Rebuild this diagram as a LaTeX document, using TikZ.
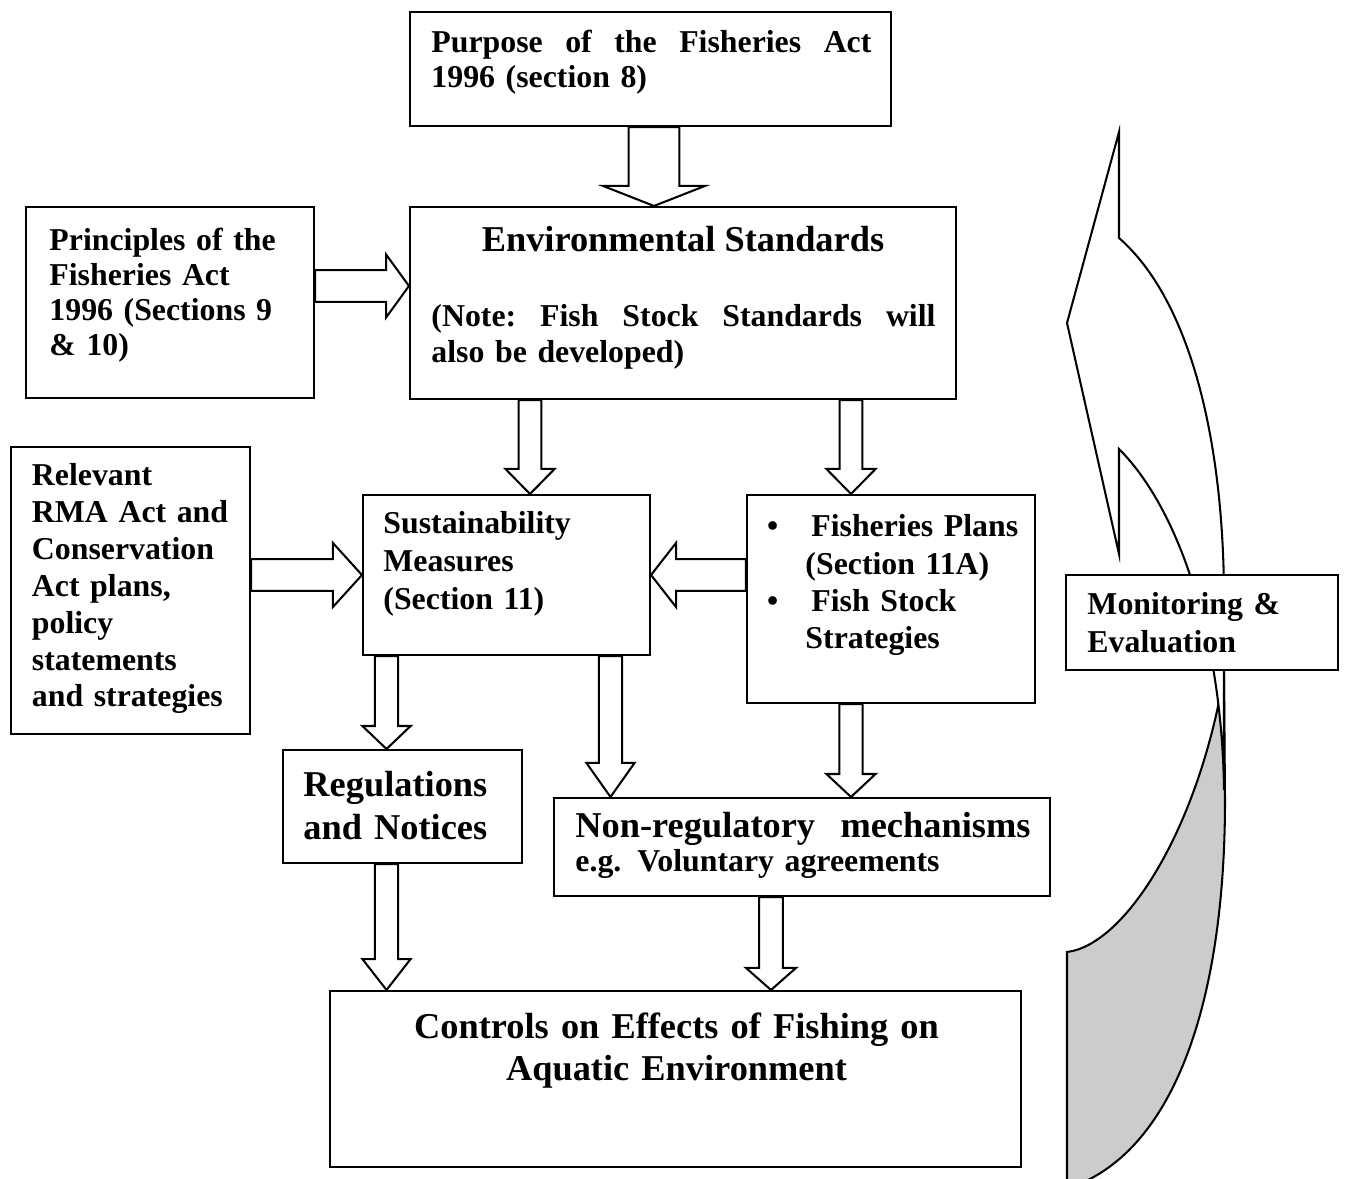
\documentclass[tikz,border=0pt]{standalone}
\usepackage{fontspec}
\setmainfont{Liberation Serif}
\usetikzlibrary{positioning,calc,fit}
\definecolor{BackGray}{RGB}{204,204,204}
\tikzset{
	box/.style={draw=black,line width=0.9pt,fill=white,inner sep=0pt},
	txt/.style={inner sep=0pt,anchor=base west,align=left},
	f14/.style={font=\bfseries\fontsize{14}{#1}\selectfont},
	f16/.style={font=\bfseries\fontsize{16}{#1}\selectfont},
	curl/.style={draw=black,line width=0.9pt},
	blk/.style n args={3}{draw=black,line width=0.9pt,fill=white,
		to path={let \p1=(\tikztostart),\p2=(\tikztotarget),
			\n1={veclen(\x2-\x1,\y2-\y1)},\n2={(\x2-\x1)/\n1},\n3={(\y2-\y1)/\n1} in
			(\x1-#1*\n3,\y1+#1*\n2) -- (\x2-#3*\n2-#1*\n3,\y2-#3*\n3+#1*\n2)
			-- (\x2-#3*\n2-#2*\n3,\y2-#3*\n3+#2*\n2) -- (\x2,\y2)
			-- (\x2-#3*\n2+#2*\n3,\y2-#3*\n3-#2*\n2) -- (\x2-#3*\n2+#1*\n3,\y2-#3*\n3-#1*\n2)
			-- (\x1+#1*\n3,\y1-#1*\n2) -- cycle}},
}
\begin{document}
\begin{tikzpicture}[x=0.44pt,y=-0.44pt]
			\useasboundingbox (0,0) rectangle (1346,1179);
			\begin{scope}
				\clip (0,0) rectangle (1346,1179);
				\draw[curl,fill=BackGray] (1224,675) .. controls (1198,830) and (1125,945) .. (1067,952)
					-- (1067,1190) -- (1062,1190) .. controls (1170,1160) and (1225,1010) .. (1225,800) -- cycle;
				\draw[curl,fill=white] (1119,132) -- (1067,323) -- (1119,554) -- (1119,449)
					.. controls (1180,510) and (1222,640) .. (1224,790)
					-- (1224,600) .. controls (1224,440) and (1190,300) .. (1119,238) -- cycle;
			\end{scope}
			\node[box,fit={(410,12) (891,126)}] (purpose) {};
			\node[box,fit={(410,207) (956,399)}] (envstd) {};
			\node[box,fit={(26,207) (314,398)}] (principles) {};
			\node[box,fit={(11,447) (250,734)}] (relevant) {};
			\node[box,fit={(363,495) (650,655)}] (sustain) {};
			\node[box,fit={(747,495) (1035,703)}] (plans) {};
			\node[box,fit={(283,750) (522,863)}] (regs) {};
			\node[box,fit={(554,798) (1050,896)}] (nonreg) {};
			\node[box,fit={(330,991) (1021,1167)}] (controls) {};
			\node[box,fit={(1066,575) (1338,670)}] (monitor) {};
			\node[txt,f14=15.4,text width=193.6pt] (purposetext) at (431,53)
				{Purpose\hfill of\hfill the\hfill Fisheries\hfill Act\\1996 (section 8)};
			\node[inner sep=0pt,anchor=base,f16=18] (envtitle) at (683,252) {Environmental Standards};
			\node[txt,f14=15.8,text width=221.8pt] (envnote) at (431,327)
				{(Note:\hfill Fish\hfill Stock\hfill Standards\hfill will\\also be developed)};
			\node[txt,f14=15.4,text width=120pt] (principlestext) at (49,251)
				{Principles of the\\Fisheries Act\\1996 (Sections 9\\\& 10)};
			\node[txt,f14=16.2,text width=100pt] (relevanttext) at (31.5,486)
				{Relevant\\RMA Act and\\Conservation\\Act plans,\\policy\\statements\\and strategies};
			\node[txt,f14=16.7,text width=110pt] (sustaintext) at (383,534)
				{Sustainability\\Measures\\(Section 11)};
			\node[txt,f14=16.3,text width=100pt] (planstext) at (805,537)
				{\leavevmode\llap{\textbullet\hspace{12pt}}\hspace*{2.6pt}Fisheries Plans\\(Section 11A)\\
				\leavevmode\llap{\textbullet\hspace{12pt}}\hspace*{2.6pt}Fish Stock\\Strategies};
			\node[txt,f16=18.9,text width=100pt] (regstext) at (303,797)
				{Regulations\\and Notices};
			\node[txt,f14=15.4,text width=200.2pt] (nonregtext) at (575,837)
				{{\fontsize{16}{18}\selectfont Non-regulatory\hfill mechanisms}\\e.g. Voluntary agreements};
			\node[inner sep=0pt,anchor=base,align=center,text width=260pt,f16=18.5] (controlstext) at (676.5,1038)
				{Controls on Effects of Fishing on\\Aquatic Environment};
			\node[txt,f14=16.3,text width=110pt] (monitortext) at (1087,615)
				{Monitoring \&\\Evaluation};
			\draw[blk={11.2}{22.4}{8.8}] (654,0 |- purpose.south) to (654,0 |- envstd.north);
			\draw[blk={7}{13.9}{10.1}] (principles.east |- 0,286) to (envstd.west |- 0,286);
			\draw[blk={5}{10.8}{11}] (530,0 |- envstd.south) to (530,0 |- sustain.north);
			\draw[blk={5}{10.8}{11}] (851,0 |- envstd.south) to (851,0 |- plans.north);
			\draw[blk={7}{14.1}{12.8}] (relevant.east |- 0,575) to (sustain.west |- 0,575);
			\draw[blk={7}{14.1}{11}] (plans.west |- 0,575) to (sustain.east |- 0,575);
			\draw[blk={5.1}{10.6}{10.1}] (386.5,0 |- sustain.south) to (386.5,0 |- regs.north);
			\draw[blk={5.1}{10.6}{15}] (610.5,0 |- sustain.south) to (610.5,0 |- nonreg.north);
			\draw[blk={5.1}{10.8}{10.1}] (851,0 |- plans.south) to (851,0 |- nonreg.north);
			\draw[blk={5.1}{10.6}{13.6}] (386.5,0 |- regs.south) to (386.5,0 |- controls.north);
			\draw[blk={5.2}{11}{9.7}] (771,0 |- nonreg.south) to (771,0 |- controls.north);
		\end{tikzpicture}
\end{document}
